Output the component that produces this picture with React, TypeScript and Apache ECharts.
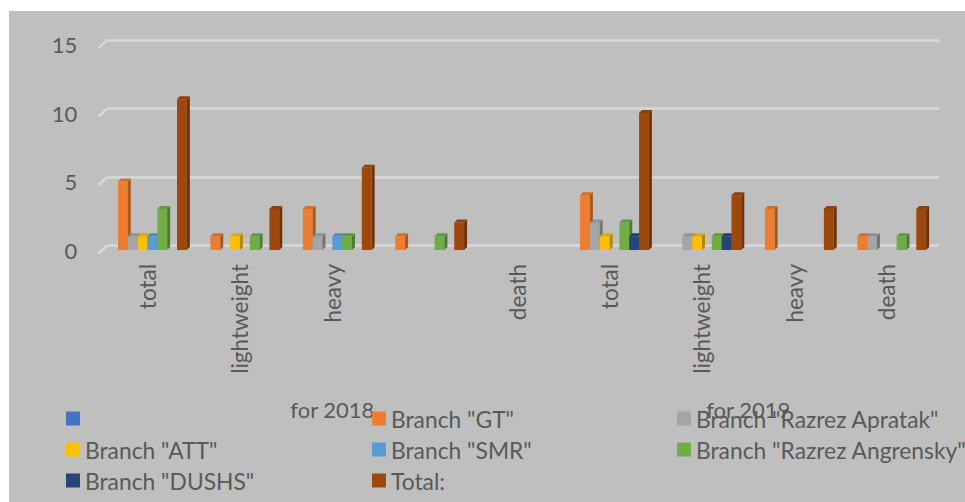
import { useEffect, useRef } from "react";
import * as echarts from "echarts";

// ---- data ----
const categories = ["total", "lightweight", "heavy", "", "death", "total", "lightweight", "heavy", "death"];
const groupLabels = ["for 2018", "for 2019"];
const groupCenters = [2.5, 7];
const yTicks = [0, 5, 10, 15];

const seriesNames = [
  " ",
  'Branch "GT"',
  'Branch "Razrez Apratak"',
  'Branch "ATT"',
  'Branch "SMR"',
  'Branch "Razrez Angrensky"',
  'Branch "DUSHS"',
  "Total:",
];
const blankValues = [0, 0, 0, 0, 0, 0, 0, 0, 0];
const gtValues = [5, 1, 3, 1, 0, 4, 0, 3, 1];
const apratakValues = [1, 0, 1, 0, 0, 2, 1, 0, 1];
const attValues = [1, 1, 0, 0, 0, 1, 1, 0, 0];
const smrValues = [1, 0, 1, 0, 0, 0, 0, 0, 0];
const angrenskyValues = [3, 1, 1, 1, 0, 2, 1, 0, 1];
const dushsValues = [0, 0, 0, 0, 0, 1, 1, 0, 0];
const totalValues = [11, 3, 6, 2, 0, 10, 4, 3, 3];
const seriesValues = [blankValues, gtValues, apratakValues, attValues, smrValues, angrenskyValues, dushsValues, totalValues];

const colors = ["#4472C4", "#ED7D31", "#A5A5A5", "#FFC000", "#5B9BD5", "#70AD47", "#264478", "#9E480E"];

// ---- styling ----
const FONT = "Lato, 'Liberation Sans', sans-serif";
const TEXT = "#595959";
const GRIDLINE = "#D9D9D9";
const BAR_RATIO = 0.1064;
const DEPTH = 3;

function shade(hex: string, f: number) {
  const n = parseInt(hex.slice(1), 16);
  const r = Math.round(((n >> 16) & 255) * f);
  const g = Math.round(((n >> 8) & 255) * f);
  const b = Math.round((n & 255) * f);
  return `rgb(${r},${g},${b})`;
}

export default function App() {
  const ref = useRef<HTMLDivElement>(null);
  useEffect(() => {
    if (!ref.current) return;
    const chart = echarts.init(ref.current, null, { renderer: "svg" });
    const nSeries = seriesNames.length;

    const barSeries = seriesNames.map((name, si) => ({
      type: "custom",
      name,
      xAxisIndex: 1,
      yAxisIndex: 1,
      itemStyle: { color: colors[si] },
      encode: { x: 0, y: 1 },
      data: seriesValues[si].map((v, j) => [j, v]),
      renderItem: (params: any, api: any) => {
        const cat = api.value(0);
        const v = api.value(1);
        if (!v) return null;
        const base = api.coord([cat, 0]);
        const top = api.coord([cat, v]);
        const slot = api.size([1, 0])[0];
        const bw = slot * BAR_RATIO;
        const x0 = base[0] - (nSeries / 2) * bw + si * bw;
        const x1 = x0 + bw;
        const yb = base[1];
        const yt = top[1];
        const c = colors[si];
        return {
          type: "group",
          children: [
            { type: "rect", shape: { x: x0, y: yt, width: bw, height: yb - yt }, style: { fill: c } },
            {
              type: "polygon",
              shape: { points: [[x1, yt], [x1 + DEPTH, yt - DEPTH], [x1 + DEPTH, yb - DEPTH], [x1, yb]] },
              style: { fill: shade(c, 0.7) },
            },
            {
              type: "polygon",
              shape: { points: [[x0, yt], [x0 + DEPTH, yt - DEPTH], [x1 + DEPTH, yt - DEPTH], [x1, yt]] },
              style: { fill: shade(c, 0.88) },
            },
          ],
        };
      },
    }));

    const slantSeries = {
      type: "custom",
      name: "__slant",
      xAxisIndex: 0,
      yAxisIndex: 0,
      silent: true,
      data: yTicks.map((t) => [0, t]),
      renderItem: (params: any, api: any) => {
        const p = api.coord([api.value(0), api.value(1)]);
        return {
          type: "line",
          shape: { x1: p[0] - 9, y1: p[1] + 8, x2: p[0], y2: p[1] },
          style: { stroke: GRIDLINE, lineWidth: 2.5 },
        };
      },
    };

    const legendCols = [[0, 3, 6], [1, 4, 7], [2, 5]];
    const legendLeft = [57, 363, 668];

    chart.setOption({
      animation: false,
      backgroundColor: "#BFBFBF",
      textStyle: { fontFamily: FONT },
      grid: [
        { left: 98.3, right: 26, top: 29, bottom: 256.5 },
        { left: 92.3, right: 32, top: 33.5, bottom: 252 },
        { left: 92.3, right: 32, top: 33.5, bottom: 252 },
      ],
      xAxis: [
        { type: "value", gridIndex: 0, min: 0, max: 9, show: false },
        {
          type: "category",
          gridIndex: 1,
          data: categories,
          axisLine: { show: false },
          axisTick: { show: false },
          axisLabel: { rotate: 90, margin: 14, fontSize: 22.5, color: TEXT, fontFamily: FONT, interval: 0 },
        },
        {
          type: "value",
          gridIndex: 2,
          min: 0,
          max: 9,
          axisLine: { show: false },
          axisTick: { show: false },
          splitLine: { show: false },
          axisLabel: {
            customValues: groupCenters,
            formatter: (v: number) => groupLabels[groupCenters.indexOf(v)] ?? "",
            margin: 148,
            fontSize: 22,
            color: TEXT,
            fontFamily: FONT,
          },
        },
      ],
      yAxis: [
        {
          type: "value",
          gridIndex: 0,
          min: 0,
          max: 15,
          interval: 5,
          axisLine: { show: false },
          axisTick: { show: false },
          axisLabel: { show: false },
          splitLine: { show: true, lineStyle: { color: GRIDLINE, width: 2.5 } },
        },
        {
          type: "value",
          gridIndex: 1,
          min: 0,
          max: 15,
          interval: 5,
          axisLine: { show: false },
          axisTick: { show: false },
          splitLine: { show: false },
          axisLabel: { margin: 24, fontSize: 22, color: TEXT, fontFamily: FONT },
        },
        { type: "value", gridIndex: 2, min: 0, max: 15, show: false },
      ],
      legend: legendCols.map((idx, c) => ({
        orient: "vertical",
        left: legendLeft[c],
        top: 396,
        padding: 0,
        itemWidth: 14,
        itemHeight: 14,
        itemGap: 8,
        icon: "rect",
        selectedMode: false,
        data: idx.map((i) => seriesNames[i]),
        textStyle: { fontFamily: FONT, fontSize: 22.8, color: TEXT, lineHeight: 23 },
      })),
      series: [slantSeries, ...barSeries],
    });
    return () => chart.dispose();
  }, []);

  return (
    <div
      ref={ref}
      style={{ position: "absolute", left: 9, top: 11, width: 956, height: 491 }}
    />
  );
}
